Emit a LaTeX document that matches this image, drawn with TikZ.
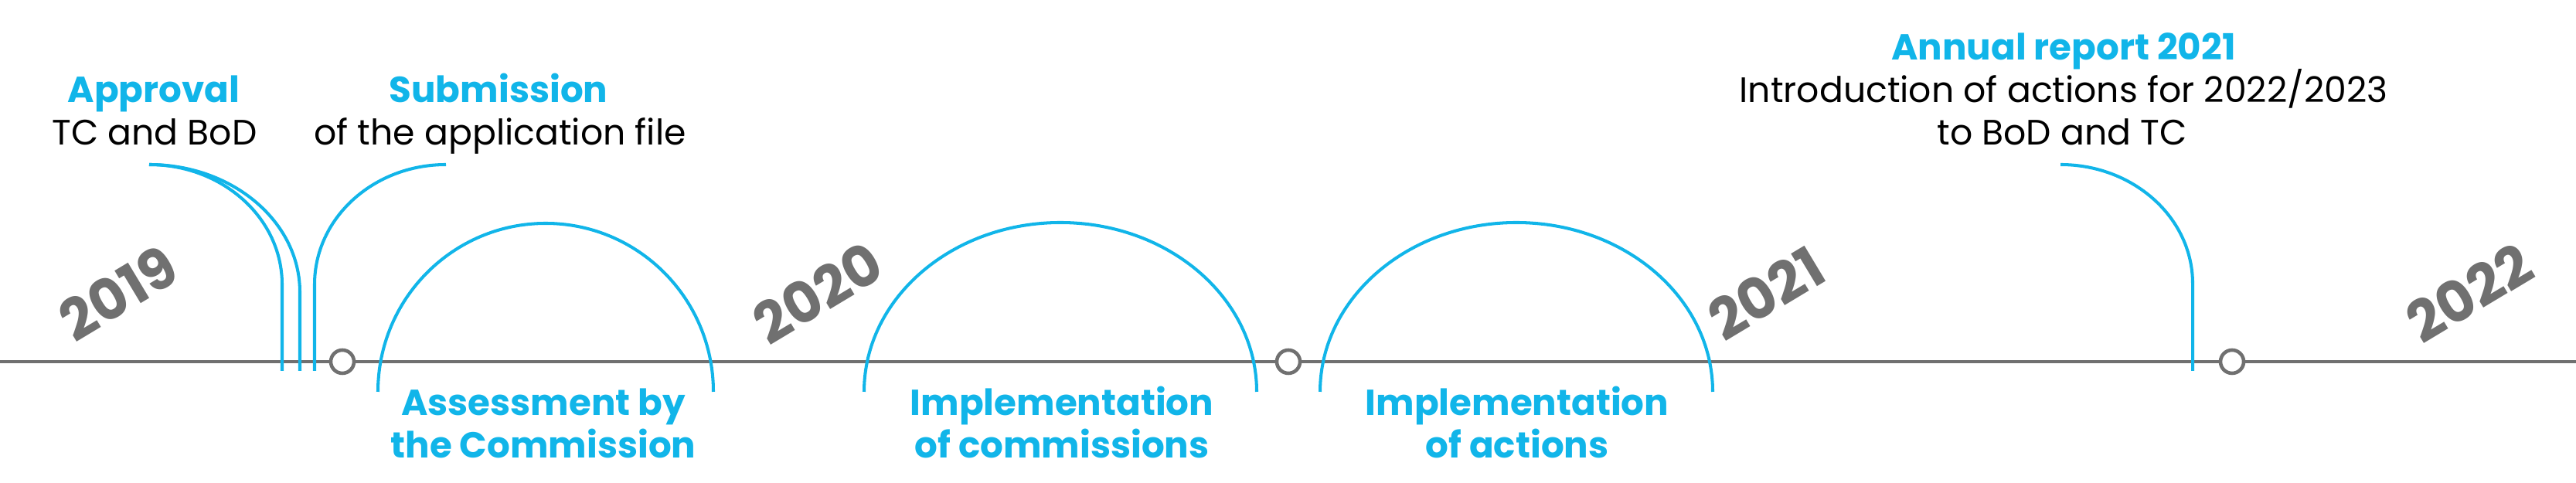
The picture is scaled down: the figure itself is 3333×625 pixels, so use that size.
\documentclass[tikz,border=0pt]{standalone}
\usepackage{fontspec}
\setmainfont{Poppins}
\usepackage{xcolor}
\usetikzlibrary{positioning}
\definecolor{lblue}{RGB}{17,181,233}
\definecolor{lgray}{RGB}{112,112,112}

\begin{document}
\begin{tikzpicture}[x=0.01cm, y=0.01cm,
    tline/.style={draw=lgray, line width=1.2pt},
    bline/.style={draw=lblue, line width=1.15pt},
    dot/.style={circle, draw=lgray, line width=1.3pt, fill=white, minimum size=0.3cm, inner sep=0pt},
    year/.style={text=lgray, font=\fontsize{20.8}{24}\selectfont\bfseries, rotate=31, inner sep=0pt},
    head/.style={text=lblue, font=\fontsize{13.3}{15.6}\selectfont\bfseries, anchor=base, inner sep=0pt},
    txt/.style={text=black, font=\fontsize{13}{15.6}\selectfont, anchor=base, inner sep=0pt}]

    \useasboundingbox (0,0) rectangle (3333,625);

    % Timeline
    \coordinate (tlL) at (0,157);
    \coordinate (tlR) at (3333,157);
    \draw[tline] (tlL) -- (tlR);

    % Years
    \foreach \x/\yr in {153/2019, 1058/2020, 2285/2021, 3195/2022} {
        \node[year] (y\yr) at (\x,246) {\yr};
    }

    % Milestones above the line
    \node[head] (apprH) at (199,492) {Approval};
    \node[txt] (apprT) at (200,437) {TC and BoD};
    \node[head] (submH) at (645,492) {Submission};
    \node[txt] (submT) at (647,437) {of the application file};
    \node[head] (annH) at (2670,547) {Annual report 2021};
    \node[txt] (annT) at (2670,492) {Introduction of actions for 2022/2023};
    \node[txt] (annT2) at (2668,437) {to BoD and TC};

    % Drops to the line
    \coordinate (apprA) at (193,412);
    \coordinate (submA) at (577,412);
    \coordinate (annA) at (2666,412);
    \draw[bline] (apprA) arc[start angle=90, end angle=0, x radius=172, y radius=155] -- ++(0,-112);
    \draw[bline] (apprA) arc[start angle=90, end angle=0, x radius=195, y radius=165] -- ++(0,-102);
    \draw[bline] (submA) arc[start angle=90, end angle=180, x radius=170, y radius=155] -- ++(0,-112);
    \draw[bline] (annA) arc[start angle=90, end angle=0, x radius=171, y radius=154] -- ++(0,-113);

    % Periods
    \coordinate (assL) at (489,118);
    \coordinate (comL) at (1118,118);
    \coordinate (actL) at (1708,118);
    \draw[bline] (assL) arc[start angle=180, end angle=0, x radius=217, y radius=218];
    \draw[bline] (comL) arc[start angle=180, end angle=0, x radius=254, y radius=219];
    \draw[bline] (actL) arc[start angle=180, end angle=0, x radius=254, y radius=219];

    \node[head] (assH) at (703,87) {Assessment by};
    \node[head] (assH2) at (703,32) {the Commission};
    \node[head] (comH) at (1374,87) {Implementation};
    \node[head] (comH2) at (1374,32) {of commissions};
    \node[head] (actH) at (1963,87) {Implementation};
    \node[head] (actH2) at (1963,32) {of actions};

    % Milestone dots
    \foreach \x [count=\i] in {443,1667,2888} {
        \node[dot] (m\i) at (\x,157) {};
    }

\end{tikzpicture}
\end{document}
